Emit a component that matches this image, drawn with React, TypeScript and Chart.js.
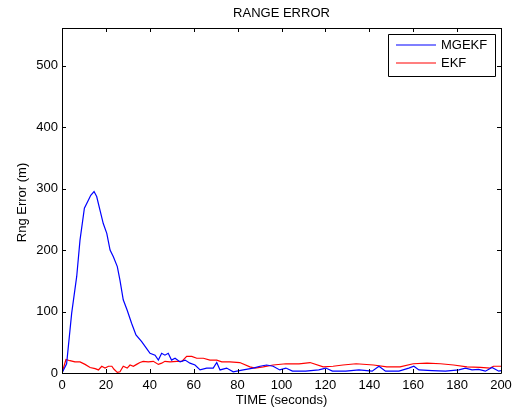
import React, { useEffect, useRef } from "react";
import { Chart, registerables } from "chart.js";

Chart.register(...registerables);

const chartTitle = "RANGE ERROR";
const xTitle = "TIME (seconds)";
const yTitle = "Rng Error (m)";
const seriesNames = ["MGEKF", "EKF"];
const seriesColors = ["#0000ff", "#ff0000"];
const xTicks = [0, 20, 40, 60, 80, 100, 120, 140, 160, 180, 200];
const yTicks = [0, 100, 200, 300, 400, 500];

const mgekfTime = [0, 2.1, 4.4, 6.7, 8.2, 10.2, 12, 13.1, 14.6, 15.8, 17.3, 18.8, 20.4, 21.9, 23.4, 25.2, 26.4, 27.9, 29.7, 31.7, 33.7, 36.3, 38.5, 40.1, 42.4, 43.9, 45.4, 46.9, 48.4, 49.9, 51.5, 53.8, 56.1, 58.3, 60.6, 62.9, 65.9, 68.9, 70.5, 72, 75, 78, 82.6, 87.1, 90.2, 93.2, 96.2, 99.2, 102, 105, 111, 117, 120.2, 123.2, 129.3, 135.3, 141.3, 144.4, 147.4, 153.5, 158, 160.3, 162.6, 168.6, 174.7, 180.8, 183.8, 186.8, 189.8, 192.9, 195.9, 199, 200];
const mgekfValue = [0, 15, 97, 157, 216, 268, 281, 289, 295, 287, 265, 243, 227, 200, 189, 173, 151, 119, 102, 81, 62, 51, 40, 32, 29, 21, 32, 29, 32, 21, 24, 18, 21, 16, 13, 5, 8, 8, 17, 5, 8, 2, 5, 8, 11, 13, 11, 5, 8, 3, 3, 5, 8, 3, 3, 5, 3, 11, 3, 3, 8, 11, 5, 4, 3, 5, 8, 5, 6, 3, 9, 3, 4];

const ekfTime = [0, 1.8, 3.6, 5.9, 8.2, 10.5, 12.8, 15.1, 16.6, 18.1, 19.6, 21.2, 22.7, 23.7, 25.2, 26.4, 27.9, 29.7, 31, 32.5, 34, 35.5, 37, 39.3, 41.6, 43.9, 45.4, 46.9, 49.2, 52.3, 54.6, 56.8, 59.1, 61.4, 64.4, 67.4, 70.5, 72.8, 76.5, 81, 85.6, 87.9, 91.7, 96.2, 102, 108, 113, 119, 123.5, 128, 134, 141.9, 148, 154, 160, 166.3, 172.4, 178.4, 184.5, 190.6, 195.1, 196.6, 200];
const ekfValue = [0, 22, 20, 18, 18, 14, 9, 7, 5, 11, 8, 11, 11, 6, 1, 2, 11, 8, 13, 11, 14, 17, 19, 18, 19, 14, 16, 19, 18, 19, 19, 27, 27, 24, 24, 21, 21, 18, 18, 17, 10, 8, 10, 13, 15, 15, 17, 10, 11, 13, 15, 13, 10, 10, 15, 16, 15, 13, 10, 9, 8, 11, 11];

const FONT = "'Liberation Sans', Arial, Helvetica, sans-serif";

export default function App() {
  const ref = useRef<HTMLCanvasElement>(null);
  useEffect(() => {
    document.body.style.margin = "0";
    const ctx = ref.current!;
    const overlay = {
      id: "matlabStyle",
      afterDraw(chart: any) {
        const c = chart.ctx;
        const a = chart.chartArea;
        const xs = chart.scales.x;
        const ys = chart.scales.y;
        c.save();
        c.strokeStyle = "#000";
        c.lineWidth = 1;
        c.beginPath();
        c.rect(Math.round(a.left) + 0.5, Math.round(a.top) + 0.5, Math.round(a.right - a.left), Math.round(a.bottom - a.top));
        c.stroke();
        const tl = 4;
        c.beginPath();
        xTicks.forEach((v) => {
          const px = Math.round(xs.getPixelForValue(v)) + 0.5;
          c.moveTo(px, a.bottom); c.lineTo(px, a.bottom - tl);
          c.moveTo(px, a.top); c.lineTo(px, a.top + tl);
        });
        yTicks.forEach((v) => {
          const py = Math.round(ys.getPixelForValue(v)) + 0.5;
          c.moveTo(a.left, py); c.lineTo(a.left + tl, py);
          c.moveTo(a.right, py); c.lineTo(a.right - tl, py);
        });
        c.stroke();
        c.fillStyle = "#000";
        c.font = `13px ${FONT}`;
        c.textAlign = "center";
        c.textBaseline = "middle";
        c.fillText(chartTitle, (a.left + a.right) / 2, 13);
        c.fillText(xTitle, (a.left + a.right) / 2, 400);
        c.save();
        c.translate(22, (a.top + a.bottom) / 2 + 2);
        c.rotate(-Math.PI / 2);
        c.fillText(yTitle, 0, 0);
        c.restore();
        // legend
        const lx = 388, ly = 34, lw = 107, lh = 42;
        c.fillStyle = "#fff";
        c.fillRect(lx, ly, lw, lh);
        c.strokeStyle = "#000";
        c.beginPath();
        c.rect(lx + 0.5, ly + 0.5, lw, lh);
        c.stroke();
        seriesNames.forEach((n, i) => {
          const y = 45 + i * 18;
          c.lineWidth = 1.2;
          c.strokeStyle = seriesColors[i];
          c.beginPath();
          c.moveTo(396, y);
          c.lineTo(436, y);
          c.stroke();
          c.fillStyle = "#000";
          c.textAlign = "left";
          c.fillText(n, 441, y + 0.5);
        });
        c.restore();
      },
    };
    const chart = new Chart(ctx, {
      type: "line",
      data: {
        datasets: [
          {
            label: seriesNames[0],
            data: mgekfTime.map((t, i) => ({ x: t, y: mgekfValue[i] })),
            borderColor: seriesColors[0],
            borderWidth: 1.2,
            pointRadius: 0,
            tension: 0,
          },
          {
            label: seriesNames[1],
            data: ekfTime.map((t, i) => ({ x: t, y: ekfValue[i] })),
            borderColor: seriesColors[1],
            borderWidth: 1.2,
            pointRadius: 0,
            tension: 0,
          },
        ],
      },
      options: {
        animation: false,
        responsive: false,
        devicePixelRatio: 1,
        layout: { padding: { top: 28, right: 12, left: 0, bottom: 0 } },
        plugins: { legend: { display: false }, title: { display: false }, tooltip: { enabled: false } },
        scales: {
          x: {
            type: "linear",
            min: 0,
            max: 200,
            afterBuildTicks: (s: any) => { s.ticks = xTicks.map((v) => ({ value: v })); },
            afterFit: (s: any) => { s.height = 37; s.paddingLeft = 0; s.paddingRight = 0; },
            grid: { display: false, drawTicks: false },
            border: { display: false },
            ticks: { color: "#000", font: { family: FONT, size: 13 }, padding: 5, maxRotation: 0, autoSkip: false },
          },
          y: {
            type: "linear",
            min: 0,
            max: 561,
            afterBuildTicks: (s: any) => { s.ticks = yTicks.map((v) => ({ value: v })); },
            afterFit: (s: any) => { s.width = 62; s.paddingTop = 0; s.paddingBottom = 0; },
            grid: { display: false, drawTicks: false },
            border: { display: false },
            ticks: { color: "#000", font: { family: FONT, size: 13 }, padding: 4, autoSkip: false },
          },
        },
      },
      plugins: [overlay],
    });
    return () => chart.destroy();
  }, []);
  return (
    <div style={{ width: 513, height: 410, background: "#fff" }}>
      <canvas ref={ref} width={513} height={410} style={{ display: "block" }} />
    </div>
  );
}
